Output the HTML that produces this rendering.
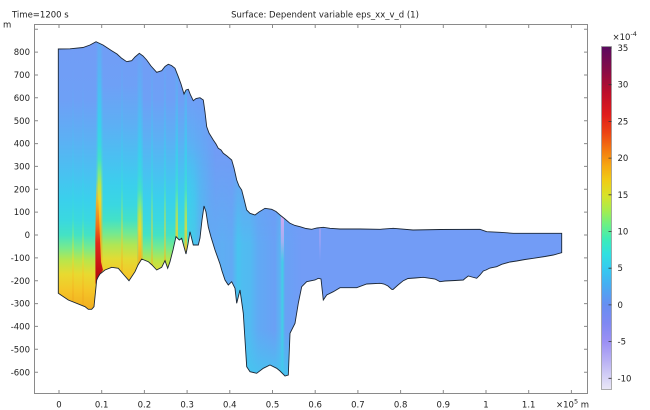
<!DOCTYPE html>
<html><head><meta charset="utf-8"><style>
html,body{margin:0;padding:0;background:#fff;}
svg{display:block;}
</style></head><body>
<svg width="650" height="410" viewBox="0 0 650 410" xmlns="http://www.w3.org/2000/svg" font-family="'DejaVu Sans','Liberation Sans',sans-serif" font-size="8.5" fill="#222">
<defs>
<clipPath id="cp"><path id="shp" d="M58.3,49 L70,48.8 L83,47.5 L90,45 L96,41.7 L103,45 L111.7,50.7 L117,54 L121.7,58.3 L126.7,61.7 L131.7,60.7 L135,57 L139.3,53.3 L143,56 L146.7,60 L151,66 L156.7,72.3 L161.7,70.7 L165,66.5 L168.3,64.3 L171.5,65.5 L175,68.3 L178.3,76.7 L181,84 L184,94 L186,90 L188.3,89.3 L190.5,95 L193.3,100.7 L196,98.5 L200,97.7 L203.3,100 L205,112 L206.7,126.7 L209,133 L213.3,140 L216,144 L218.3,148.3 L221,150 L223.3,153.3 L227,156 L231.7,160 L234,168 L236.7,180 L239,186 L241.7,190 L244,199 L246.7,210 L250,213.3 L255,215 L259,212 L265,208.3 L271.7,209.3 L276,211.5 L280,215 L285,219 L290,223.3 L295,225.5 L300,226.7 L306,228.5 L311.7,229.3 L317,228 L323.3,227.3 L330,228.3 L340,229 L360,229 L380,229.3 L393.3,228.3 L413,230 L440,229.5 L480,229.3 L486.7,231.7 L500,232.3 L513.3,233.3 L540,233.3 L561.7,233.3 L561.7,252.7 L553.3,255 L545,256.5 L533.3,258.3 L525,259.5 L516.7,261 L510,262 L501.7,264.3 L496.7,266.7 L490,268 L486,270 L483.3,271 L480,275 L476.7,278.3 L472,277 L468.3,276 L465,278.5 L463.3,280 L455,280.5 L445,281 L440,281.7 L435,279 L423.3,277.3 L415,278 L408,278.5 L403.3,280.7 L398,285 L393,289.5 L391.7,289.3 L388,286 L384,284 L380,283.3 L366.7,284 L356.7,287.7 L340,287.7 L333.3,291.7 L326.7,295 L323.3,300 L321,279 L318.3,278.3 L315,280 L306.7,281.7 L301.7,286.7 L298.3,303.3 L295,323.3 L290,333.3 L288.3,375 L285,376 L280,371 L276.7,368.3 L270,365 L263.3,368.3 L256.7,373.3 L250,371.7 L246.7,366.7 L245,340 L243.3,313.3 L240,290 L236.7,303.3 L235,288.3 L231.7,281.7 L228.3,285 L225,280 L222,271 L220,264 L215,250 L211,237 L208.3,227 L206,212 L204,206 L202,220 L200,238 L198.3,245 L195,245 L193.3,245 L190,231.7 L188,244 L186,254 L183.5,245 L181.7,238.3 L179.3,240 L176,236.7 L173,250 L170,261.7 L167.7,268.3 L165,260.7 L161.7,267.3 L156.7,270 L152,265 L148.3,261.7 L141.7,259 L138,265 L135,271.7 L129,280.7 L124,275 L118.3,268.3 L111.7,267.3 L105,270 L100,274 L98.3,276.7 L96.7,280 L94,306.7 L91.7,309.3 L88.3,309.3 L85,306.7 L68.3,300 L58.3,293.3 Z"/></clipPath>

<linearGradient id="g1" gradientUnits="userSpaceOnUse" x1="0" y1="40" x2="0" y2="312">
<stop offset="0" stop-color="#729cf6"/><stop offset="0.22" stop-color="#6ea0f6"/><stop offset="0.368" stop-color="#5cb0f4"/><stop offset="0.496" stop-color="#48c2f1"/><stop offset="0.588" stop-color="#3ad0ec"/><stop offset="0.662" stop-color="#3ad8e0"/><stop offset="0.717" stop-color="#44e2c4"/><stop offset="0.765" stop-color="#78ea8c"/><stop offset="0.809" stop-color="#b8e64c"/><stop offset="0.86" stop-color="#e8da30"/><stop offset="0.919" stop-color="#f4c628"/><stop offset="1" stop-color="#f2aa1e"/>
</linearGradient>
<linearGradient id="g1b" gradientUnits="userSpaceOnUse" x1="0" y1="25" x2="0" y2="297">
<stop offset="0" stop-color="#729cf6"/><stop offset="0.22" stop-color="#6ea0f6"/><stop offset="0.368" stop-color="#5cb0f4"/><stop offset="0.496" stop-color="#48c2f1"/><stop offset="0.588" stop-color="#3ad0ec"/><stop offset="0.662" stop-color="#3ad8e0"/><stop offset="0.717" stop-color="#44e2c4"/><stop offset="0.765" stop-color="#78ea8c"/><stop offset="0.809" stop-color="#b8e64c"/><stop offset="0.86" stop-color="#e8da30"/><stop offset="0.919" stop-color="#f4c628"/><stop offset="1" stop-color="#f2aa1e"/>
</linearGradient>
<linearGradient id="g1s45" gradientUnits="userSpaceOnUse" x1="0" y1="-5" x2="0" y2="267">
<stop offset="0" stop-color="#729cf6"/><stop offset="0.22" stop-color="#6ea0f6"/><stop offset="0.368" stop-color="#5cb0f4"/><stop offset="0.496" stop-color="#48c2f1"/><stop offset="0.588" stop-color="#3ad0ec"/><stop offset="0.662" stop-color="#3ad8e0"/><stop offset="0.717" stop-color="#44e2c4"/><stop offset="0.765" stop-color="#78ea8c"/><stop offset="0.809" stop-color="#b8e64c"/><stop offset="0.86" stop-color="#e8da30"/><stop offset="0.919" stop-color="#f4c628"/><stop offset="1" stop-color="#f2aa1e"/>
</linearGradient>
<linearGradient id="g1s75" gradientUnits="userSpaceOnUse" x1="0" y1="-35" x2="0" y2="237">
<stop offset="0" stop-color="#729cf6"/><stop offset="0.22" stop-color="#6ea0f6"/><stop offset="0.368" stop-color="#5cb0f4"/><stop offset="0.496" stop-color="#48c2f1"/><stop offset="0.588" stop-color="#3ad0ec"/><stop offset="0.662" stop-color="#3ad8e0"/><stop offset="0.717" stop-color="#44e2c4"/><stop offset="0.765" stop-color="#78ea8c"/><stop offset="0.809" stop-color="#b8e64c"/><stop offset="0.86" stop-color="#e8da30"/><stop offset="0.919" stop-color="#f4c628"/><stop offset="1" stop-color="#f2aa1e"/>
</linearGradient>

<linearGradient id="hf" gradientUnits="userSpaceOnUse" x1="190" y1="0" x2="216" y2="0"><stop offset="0" stop-color="#fff"/><stop offset="1" stop-color="#000"/></linearGradient>
<mask id="mh" maskUnits="userSpaceOnUse" x="0" y="0" width="650" height="410"><rect width="650" height="410" fill="url(#hf)"/></mask>

<linearGradient id="h2" gradientUnits="userSpaceOnUse" x1="188" y1="0" x2="302" y2="0">
<stop offset="0" stop-color="#42ccee"/><stop offset="0.061" stop-color="#48c4ef"/><stop offset="0.105" stop-color="#5cb0f3"/><stop offset="0.193" stop-color="#64a8f4"/><stop offset="0.298" stop-color="#5eaef3"/><stop offset="0.386" stop-color="#62aaf4"/><stop offset="0.439" stop-color="#48c4ef"/><stop offset="0.482" stop-color="#50bcf1"/><stop offset="0.544" stop-color="#52baf1"/><stop offset="0.614" stop-color="#60aaf4"/><stop offset="0.763" stop-color="#6aa0f5"/><stop offset="0.81" stop-color="#5ab4f2"/><stop offset="0.828" stop-color="#40d0e6"/><stop offset="0.851" stop-color="#68a2f5"/><stop offset="1" stop-color="#729cf6"/>
</linearGradient>
<linearGradient id="vf" gradientUnits="userSpaceOnUse" x1="0" y1="150" x2="0" y2="245"><stop offset="0" stop-color="#000"/><stop offset="1" stop-color="#fff"/></linearGradient>
<mask id="mv" maskUnits="userSpaceOnUse" x="0" y="0" width="650" height="410"><rect width="650" height="410" fill="url(#vf)"/></mask>

<linearGradient id="deep" gradientUnits="userSpaceOnUse" x1="0" y1="330" x2="0" y2="378"><stop offset="0" stop-color="#48c2f0" stop-opacity="0"/><stop offset="1" stop-color="#44c6ef" stop-opacity="0.9"/></linearGradient>

<linearGradient id="gr" gradientUnits="userSpaceOnUse" x1="0" y1="180" x2="0" y2="282">
<stop offset="0" stop-color="#f0d030" stop-opacity="0"/><stop offset="0.22" stop-color="#f5b020" stop-opacity="0.85"/><stop offset="0.45" stop-color="#f07018"/><stop offset="0.62" stop-color="#e02a18"/><stop offset="0.84" stop-color="#c81414"/><stop offset="1" stop-color="#a80c0c"/>
</linearGradient>
<linearGradient id="lav" gradientUnits="userSpaceOnUse" x1="0" y1="212" x2="0" y2="262"><stop offset="0" stop-color="#d8a8f2" stop-opacity="1"/><stop offset="0.6" stop-color="#c8a8f4" stop-opacity="0.7"/><stop offset="1" stop-color="#b0a8f4" stop-opacity="0"/></linearGradient>

<linearGradient id="cb" x1="0" y1="0" x2="0" y2="1">
<stop offset="0" stop-color="#5a0a60"/><stop offset="0.07" stop-color="#880c46"/><stop offset="0.134" stop-color="#bc0e2a"/><stop offset="0.198" stop-color="#e01c1c"/><stop offset="0.252" stop-color="#ec4414"/><stop offset="0.305" stop-color="#f47c10"/><stop offset="0.348" stop-color="#f6a812"/><stop offset="0.391" stop-color="#f0cc14"/><stop offset="0.434" stop-color="#d8e228"/><stop offset="0.476" stop-color="#a8ec4c"/><stop offset="0.519" stop-color="#6cf084"/><stop offset="0.562" stop-color="#3cecb8"/><stop offset="0.605" stop-color="#30e0e0"/><stop offset="0.648" stop-color="#34caf0"/><stop offset="0.691" stop-color="#44b0f2"/><stop offset="0.734" stop-color="#5c98f2"/><stop offset="0.755" stop-color="#688ef1"/><stop offset="0.808" stop-color="#8088f2"/><stop offset="0.862" stop-color="#9c90f4"/><stop offset="0.915" stop-color="#b8b0f4"/><stop offset="0.969" stop-color="#d8d4f6"/><stop offset="1" stop-color="#eae8f6"/>
</linearGradient>
</defs>

<!-- field -->
<g clip-path="url(#cp)">
<rect x="50" y="30" width="520" height="360" fill="#729cf6"/>
<rect x="50" y="35" width="175" height="285" fill="url(#g1)" mask="url(#mh)"/>
<rect x="99" y="35" width="38" height="285" fill="url(#g1b)" opacity="0.9"/>
<!-- streaks -->
<rect x="96.5" y="35" width="6" height="250" fill="url(#g1s75)" opacity="0.5"/>
<rect x="97.8" y="35" width="3.4" height="250" fill="url(#g1s75)"/>
<rect x="137" y="35" width="6" height="250" fill="url(#g1s45)" opacity="0.5"/>
<rect x="138.3" y="35" width="3.2" height="250" fill="url(#g1s45)"/>
<rect x="175.5" y="35" width="2.5" height="250" fill="url(#g1s45)" opacity="0.8"/>
<rect x="184.5" y="35" width="2.5" height="250" fill="url(#g1s45)" opacity="0.8"/>
<rect x="121" y="35" width="2" height="250" fill="url(#g1s45)" opacity="0.4"/>
<rect x="151" y="35" width="2" height="250" fill="url(#g1s45)" opacity="0.45"/>
<rect x="164" y="35" width="2" height="250" fill="url(#g1s45)" opacity="0.5"/>
<rect x="72" y="35" width="2" height="280" fill="url(#g1b)" opacity="0.5"/>
<rect x="82" y="35" width="2" height="280" fill="url(#g1b)" opacity="0.5"/>
<!-- middle region -->
<rect x="188" y="140" width="114" height="245" fill="url(#h2)" mask="url(#mv)"/>
<rect x="244" y="320" width="50" height="60" fill="url(#deep)"/>
<!-- red streak -->
<polygon points="96.2,180 97.6,180 99.8,235 101,262 103,270 98.3,276.7 96.7,280 95.5,285 95.3,240" fill="url(#gr)"/>
<!-- lavender streaks -->
<rect x="280.8" y="210" width="3.2" height="55" fill="url(#lav)"/>
<rect x="319" y="225" width="2" height="40" fill="url(#lav)" opacity="0.5"/>
</g>
<use href="#shp" fill="none" stroke="#1b2634" stroke-width="0.9"/>

<!-- axes frame -->
<g stroke="#8a8a8a" stroke-width="1" fill="none">
<rect x="34.5" y="24.5" width="553" height="369"/>
</g>
<!-- ticks -->
<g stroke="#8a8a8a" stroke-width="1">
<path d="M34,29.3h4 M34,52.1h4 M34,75h4 M34,97.8h4 M34,120.7h4 M34,143.6h4 M34,166.4h4 M34,189.3h4 M34,212.1h4 M34,235h4 M34,257.9h4 M34,280.7h4 M34,303.6h4 M34,326.4h4 M34,349.3h4 M34,372.2h4"/>
<path d="M588,29.3h-4 M588,52.1h-4 M588,75h-4 M588,97.8h-4 M588,120.7h-4 M588,143.6h-4 M588,166.4h-4 M588,189.3h-4 M588,212.1h-4 M588,235h-4 M588,257.9h-4 M588,280.7h-4 M588,303.6h-4 M588,326.4h-4 M588,349.3h-4 M588,372.2h-4"/>
<path d="M59,394v-4 M101.7,394v-4 M144.4,394v-4 M187.1,394v-4 M229.8,394v-4 M272.5,394v-4 M315.2,394v-4 M357.9,394v-4 M400.6,394v-4 M443.3,394v-4 M486,394v-4 M528.7,394v-4 M571.4,394v-4"/>
<path d="M59,24v4 M101.7,24v4 M144.4,24v4 M187.1,24v4 M229.8,24v4 M272.5,24v4 M315.2,24v4 M357.9,24v4 M400.6,24v4 M443.3,24v4 M486,24v4 M528.7,24v4 M571.4,24v4"/>
</g>

<!-- y labels -->
<g text-anchor="end">
<text x="30" y="55.2">800</text><text x="30" y="78.1">700</text><text x="30" y="100.9">600</text><text x="30" y="123.8">500</text><text x="30" y="146.7">400</text><text x="30" y="169.5">300</text><text x="30" y="192.4">200</text><text x="30" y="215.2">100</text><text x="30" y="238.1">0</text><text x="30" y="261">-100</text><text x="30" y="283.8">-200</text><text x="30" y="306.7">-300</text><text x="30" y="329.5">-400</text><text x="30" y="352.4">-500</text><text x="30" y="375.3">-600</text>
</g>
<!-- x labels -->
<g text-anchor="middle">
<text x="59" y="407.5">0</text><text x="101.7" y="407.5">0.1</text><text x="144.4" y="407.5">0.2</text><text x="187.1" y="407.5">0.3</text><text x="229.8" y="407.5">0.4</text><text x="272.5" y="407.5">0.5</text><text x="315.2" y="407.5">0.6</text><text x="357.9" y="407.5">0.7</text><text x="400.6" y="407.5">0.8</text><text x="443.3" y="407.5">0.9</text><text x="486" y="407.5">1</text><text x="528.7" y="407.5">1.1</text>
</g>
<text x="556" y="407.5">×10<tspan dy="-4" font-size="6.5">5</tspan><tspan dy="4"> m</tspan></text>
<text x="3" y="27.5">m</text>
<text x="12" y="17.5">Time=1200 s</text>
<text x="325" y="17.5" text-anchor="middle">Surface: Dependent variable eps_xx_v_d (1)</text>

<!-- colorbar -->
<rect x="601.5" y="46.5" width="10" height="343" fill="url(#cb)" stroke="#9a9a9a" stroke-width="0.8"/>
<g stroke="#333" stroke-width="0.8">
<path d="M608.5,48h3 M608.5,84.7h3 M608.5,121.4h3 M608.5,158.1h3 M608.5,194.8h3 M608.5,231.5h3 M608.5,268.2h3 M608.5,304.9h3 M608.5,341.6h3 M608.5,378.3h3"/>
</g>
<g>
<text x="617.5" y="51">35</text><text x="617.5" y="87.7">30</text><text x="617.5" y="124.4">25</text><text x="617.5" y="161.1">20</text><text x="617.5" y="197.8">15</text><text x="617.5" y="234.5">10</text><text x="617.5" y="271.2">5</text><text x="617.5" y="307.9">0</text><text x="617.5" y="344.6">-5</text><text x="617.5" y="381.3">-10</text>
</g>
<text x="612.5" y="40">×10<tspan dy="-4" font-size="6.5">-4</tspan></text>
</svg>
</body></html>
